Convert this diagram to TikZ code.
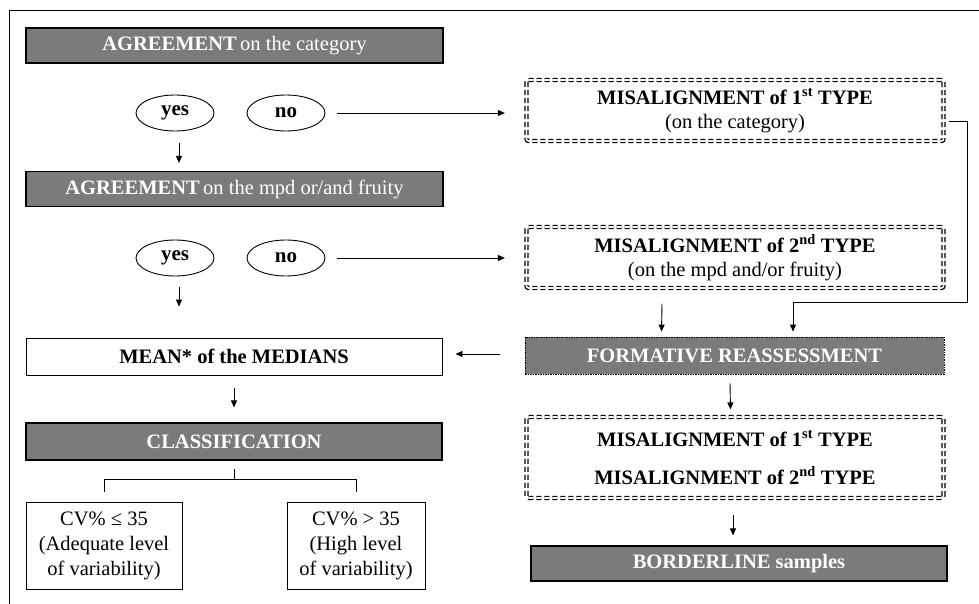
\documentclass[tikz,border=0pt]{standalone}
\usepackage{fontspec}
\setmainfont{Liberation Serif}
\usetikzlibrary{shapes.geometric,arrows.meta,calc}
\definecolor{boxgray}{HTML}{7B7B7B}
\tikzset{
  every node/.style={font=\fontsize{20.5}{24}\selectfont},
  graybox/.style={draw=black, line width=1.1pt, fill=boxgray, text=white, minimum width=#1, minimum height=35pt, inner sep=0pt},
  whitebox/.style={draw=black, line width=0.9pt, fill=white, minimum width=#1, inner sep=0pt},
  choice/.style={draw=black, line width=0.9pt, ellipse, minimum width=78pt, minimum height=36pt, inner sep=0pt, font=\fontsize{21}{24}\selectfont\bfseries},
  dblbox/.style={draw=black, line width=1.3pt, double=white, double distance=1.6pt, dash pattern=on 5pt off 3pt, rounded corners=2pt, minimum width=417pt, minimum height=#1, inner sep=0pt, align=center},
  arr/.style={line width=0.9pt, -{Triangle[length=7pt,width=6pt]}},
  plain/.style={line width=0.9pt}
}
\begin{document}
\begin{tikzpicture}[x=1pt,y=-1pt]
\useasboundingbox (0,0) rectangle (979,604);
% frame
\draw[line width=1pt] (979,11) -- (9,11) -- (9,604);

% left column
\node[graybox=417pt] (a1) at (234.5,45.5) {\textbf{AGREEMENT}\,on the category};
\node[choice] (yes1) at (175,113) {yes};
\node[choice] (no1) at (286,113) {no};
\node[graybox=417pt] (a2) at (234.5,189) {\textbf{AGREEMENT}\,on the mpd or/and fruity};
\node[choice] (yes2) at (175,258) {yes};
\node[choice] (no2) at (286,258) {no};
\node[whitebox=416pt, minimum height=37pt] (mean) at (234,356.5) {\textbf{MEAN* of the MEDIANS}};
\node[graybox=416pt, minimum height=37pt] (cls) at (234,441.5) {\textbf{CLASSIFICATION}};
\node[whitebox=156pt, minimum height=87pt, align=center, font=\fontsize{20.5}{25}\selectfont] (cvl) at (104,546) {CV\% ≤ 35\\(Adequate level\\of variability)};
\node[whitebox=138pt, minimum height=87pt, align=center, font=\fontsize{20.5}{25}\selectfont] (cvr) at (356,546) {CV\% > 35\\(High level\\of variability)};

% right column
\node[dblbox=61pt] (mis1) at (735,110.5) {\textbf{MISALIGNMENT of 1\textsuperscript{st} TYPE}\\(on the category)};
\node[dblbox=61pt] (mis2) at (735,257.5) {\textbf{MISALIGNMENT of 2\textsuperscript{nd} TYPE}\\(on the mpd and/or fruity)};
\node[graybox=419pt, minimum height=37pt, line width=0.8pt, dash pattern=on 1.5pt off 1pt] (form) at (734.5,355.5) {\textbf{FORMATIVE REASSESSMENT}};
\node[dblbox=81pt, font=\fontsize{20.5}{38}\selectfont] (mis12) at (735,457.5) {\textbf{MISALIGNMENT of 1\textsuperscript{st} TYPE}\\\textbf{MISALIGNMENT of 2\textsuperscript{nd} TYPE}};
\node[graybox=416pt] (bord) at (739,563.5) {\textbf{BORDERLINE samples}};

% connectors
\draw[arr, shorten <=12pt, shorten >=21pt] (no1.east) -- (no1.east -| mis1.west);
\draw[arr, shorten <=12pt, shorten >=21pt] (no2.east) -- (no2.east -| mis2.west);
\draw[arr] ([xshift=4pt,yshift=-12pt]yes1.south) -- ([xshift=4pt,yshift=8pt]yes1.south |- a2.north);
\draw[arr] ([xshift=4pt,yshift=-11pt]yes2.south) -- ([xshift=4pt,yshift=31pt]yes2.south |- mean.north);
\draw[arr] ([yshift=-13pt]mean.south) -- ([yshift=15pt]cls.north);
\draw[arr, shorten <=25pt, shorten >=13pt] ([yshift=1.5pt]form.west) -- ([yshift=1.5pt]form.west -| mean.east);
\draw[plain] ([yshift=-8pt]cls.south) -- ([yshift=-19pt]cls.south);
\draw[plain] ([yshift=10pt]cvl.north) |- ([yshift=-19pt]cls.south) -| ([yshift=10pt]cvr.north);

\coordinate (c1) at (967,302);
\draw[arr] ([xshift=5pt,yshift=-10.5pt]mis1.east) -| (c1) -| ([xshift=58.5pt,yshift=5pt]form.north);
\draw[arr] ([xshift=-73pt,yshift=-15pt]mis2.south) -- ([xshift=-73pt,yshift=5pt]form.north);
\draw[arr] ([xshift=-4.5pt,yshift=-9pt]form.south) -- ([xshift=-4.5pt,yshift=7pt]mis12.north);
\draw[arr] ([xshift=-2pt,yshift=-16pt]mis12.south) -- ([xshift=-6pt,yshift=10pt]bord.north);
\end{tikzpicture}
\end{document}
